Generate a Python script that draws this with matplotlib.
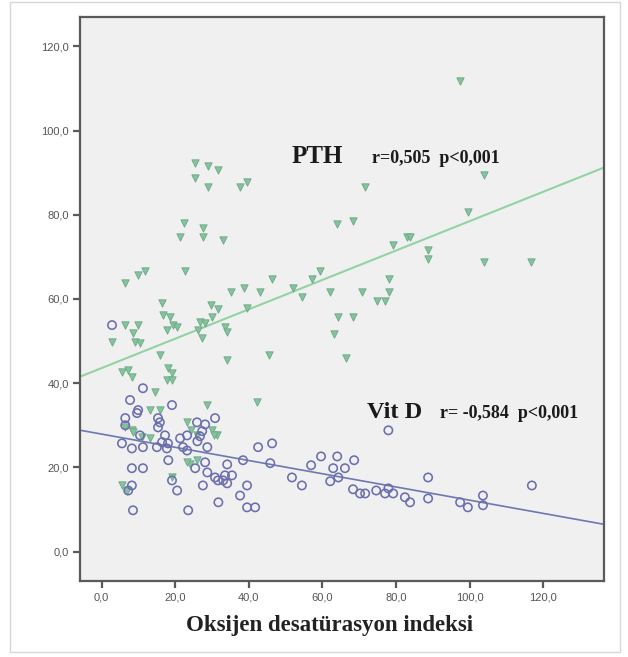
import matplotlib
matplotlib.use("Agg")
import matplotlib.pyplot as plt
from matplotlib.patches import Rectangle
from matplotlib.ticker import FuncFormatter
import numpy as np

# ---- data ----
pth_x = [97.3, 103.9, 99.5, 103.9, 116.6, 71.5, 63.9, 68.3, 79.2, 82.9, 83.8, 88.7, 88.7,
         59.3, 57.1, 52.0, 46.3, 38.7, 43.0, 54.4, 62.1, 70.8, 78.1, 78.1, 74.8, 77.0,
         64.2, 68.3, 63.1, 45.5, 66.4, 39.5, 37.6, 39.5, 25.4, 28.9, 31.7, 25.4, 28.9,
         22.4, 21.3, 27.5, 27.5, 33.0, 6.4, 9.9, 11.8, 22.7, 35.2, 16.4, 16.7, 18.6,
         29.8, 31.6, 6.4, 9.9, 2.8, 8.5, 9.1, 10.4, 19.4, 20.5, 17.8, 26.7, 28.1, 30.0,
         26.2, 27.3, 33.5, 34.1, 15.8, 7.2, 5.5, 8.2, 18.1, 19.1, 17.7, 19.1, 34.1,
         14.5, 42.3, 28.7, 13.1, 15.8, 6.4, 8.2, 23.2, 24.3, 30.0, 31.3, 13.1, 10.9,
         8.5, 30.5, 26.0, 24.1, 23.2, 25.9, 19.1, 5.5, 6.8]
pth_y = [111.7, 89.5, 80.7, 68.8, 68.8, 86.7, 77.9, 78.6, 72.9, 74.8, 74.8, 71.7, 69.5,
         66.7, 64.8, 62.6, 64.8, 62.6, 61.7, 60.5, 61.7, 61.7, 64.8, 61.7, 59.5, 59.5,
         55.7, 55.7, 51.7, 46.7, 46.0, 57.9, 86.7, 87.9, 92.4, 91.7, 90.7, 88.8, 86.7,
         78.1, 74.8, 76.9, 74.8, 74.0, 63.8, 65.7, 66.7, 66.7, 61.7, 59.0, 56.2, 55.7,
         58.6, 57.6, 53.8, 53.8, 49.8, 51.9, 49.8, 49.5, 53.8, 53.3, 52.6, 54.5, 54.3, 55.7,
         52.6, 50.7, 53.3, 52.1, 46.7, 43.1, 42.6, 41.4, 43.6, 42.4, 40.7, 40.7, 45.5,
         37.9, 35.5, 34.8, 33.6, 33.6, 29.5, 28.8, 30.7, 28.8, 28.8, 27.6, 26.9, 27.1,
         28.3, 27.6, 27.6, 20.7, 21.2, 21.7, 17.6, 15.7, 14.5]

vitd_x = [2.8, 11.2, 7.7, 19.1, 9.9, 9.6, 6.4, 6.4, 15.3, 15.8, 15.3, 25.9, 30.8, 28.1,
          27.3, 26.7, 26.0, 10.4, 17.2, 16.4, 18.0, 17.7, 21.3, 23.2, 22.1, 23.2, 28.7,
          5.5, 8.2, 11.2, 15.0, 18.1, 8.2, 11.2, 25.4, 28.1, 28.7, 30.8, 31.6, 33.0,
          34.1, 35.4, 33.5, 34.1, 19.1, 20.5, 27.5, 8.2, 7.2, 31.7, 8.5, 23.5, 37.6,
          39.5, 39.5, 41.7, 38.4, 42.5, 46.3, 45.8, 51.7, 54.4, 56.9, 59.6, 64.0, 68.6,
          62.9, 66.1, 64.3, 62.1, 68.3, 70.2, 71.6, 74.6, 77.0, 79.2, 77.9, 82.4, 83.8,
          88.7, 88.7, 77.9, 116.9, 103.6, 97.4, 99.5, 103.6]
vitd_y = [53.8, 38.8, 36.0, 34.8, 33.6, 32.9, 31.7, 30.0, 31.7, 30.7, 29.5, 30.7, 31.7, 30.2,
          28.6, 27.4, 26.2, 27.6, 27.6, 26.0, 25.7, 24.5, 26.9, 27.6, 24.8, 24.0, 24.8,
          25.7, 24.5, 24.8, 24.8, 21.7, 19.8, 19.8, 19.8, 21.2, 18.8, 17.6, 16.9, 16.9,
          16.2, 18.1, 18.1, 20.7, 16.9, 14.5, 15.7, 15.7, 14.5, 11.7, 9.8, 9.8, 13.3,
          15.7, 10.5, 10.5, 21.7, 24.8, 25.7, 21.0, 17.6, 15.7, 20.5, 22.6, 22.6, 21.7,
          19.8, 19.8, 17.6, 16.7, 14.8, 13.8, 13.8, 14.5, 13.8, 13.8, 15.0, 12.9, 11.7,
          17.6, 12.6, 28.8, 15.7, 13.3, 11.7, 10.5, 11.0]

# fit lines (intercept, slope)
pth_fit = (43.6, 0.349)
vitd_fit = (27.9, -0.157)

x_ticks = [0, 20, 40, 60, 80, 100, 120]
y_ticks = [0, 20, 40, 60, 80, 100, 120]
x_label = "Oksijen desatürasyon indeksi"
pth_label = "PTH"
pth_stats = "r=0,505  p<0,001"
vitd_label = "Vit D"
vitd_stats = "r= -0,584  p<0,001"

# ---- figure ----
W, H = 628, 657
fig = plt.figure(figsize=(W / 100, H / 100), dpi=100)
fig.patch.set_facecolor("white")

# outer picture frame
fig.add_artist(Rectangle((10 / W, 1 - 652 / H), 610 / W, 650 / H,
                         transform=fig.transFigure, fill=False,
                         edgecolor="#d8d8d8", linewidth=1.0))

ax = fig.add_axes([80 / W, 1 - 581 / H, 524 / W, 564 / H])
ax.set_facecolor("#f0f0f0")
xlim = (-5.9, 136.5)
ax.set_xlim(*xlim)
ax.set_ylim(-7, 127)

xs = np.array(xlim)
ax.plot(xs, pth_fit[0] + pth_fit[1] * xs, color="#93d3a3", lw=1.5, zorder=2)
ax.plot(xs, vitd_fit[0] + vitd_fit[1] * xs, color="#6c78b0", lw=1.2, zorder=2)

ax.scatter(pth_x, pth_y, marker="v", s=28, facecolor="#86c29e",
           edgecolor="#6aa884", linewidth=0.6, zorder=3)
ax.scatter(vitd_x, vitd_y, marker="o", s=36, facecolor="none",
           edgecolor="#6b6eae", linewidth=1.15, zorder=4)

for sp in ax.spines.values():
    sp.set_color("#5a5a5a")
    sp.set_linewidth(1.6)

ax.set_xticks(x_ticks)
ax.set_yticks(y_ticks)
fmt = FuncFormatter(lambda v, p: f"{v:.1f}".replace(".", ","))
ax.xaxis.set_major_formatter(fmt)
ax.yaxis.set_major_formatter(fmt)
ax.tick_params(direction="out", length=5, width=1.6, color="#5a5a5a",
               labelsize=8, labelcolor="#555555", pad=3)
for lab in ax.get_xticklabels() + ax.get_yticklabels():
    lab.set_family("Liberation Sans")

serif = "Liberation Serif"
ax.text(51.5, 92.2, pth_label, family=serif, weight="bold", fontsize=18,
        color="#1a1a1a", va="baseline", ha="left")
ax.text(73.4, 92.2, pth_stats, family=serif, weight="bold", fontsize=13,
        color="#1a1a1a", va="baseline", ha="left")
ax.text(72.0, 31.7, vitd_label, family=serif, weight="bold", fontsize=17.5,
        color="#1a1a1a", va="baseline", ha="left")
ax.text(91.9, 31.7, vitd_stats, family=serif, weight="bold", fontsize=13,
        color="#1a1a1a", va="baseline", ha="left")

fig.text(330 / W, 1 - 631 / H, x_label, family=serif, weight="bold",
         fontsize=16.5, color="#222222", ha="center", va="baseline")

fig.savefig("out.png", dpi=100)
